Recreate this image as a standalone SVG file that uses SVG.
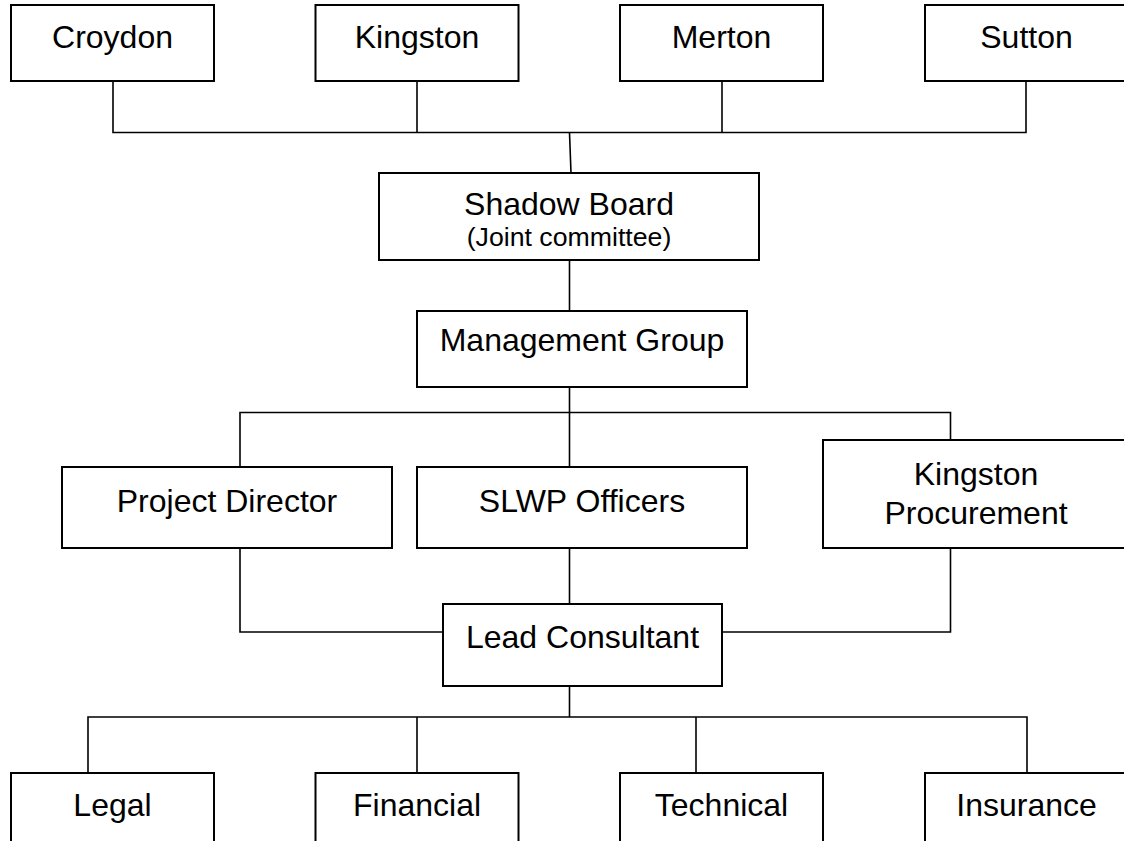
<svg xmlns="http://www.w3.org/2000/svg" width="1124" height="841" viewBox="0 0 1124 841">
<style>
.box{fill:#fff;stroke:#000;stroke-width:2}
.ln{fill:none;stroke:#000;stroke-width:1.6}
.t{font-family:"Liberation Sans",Arial,sans-serif;font-size:32px;text-anchor:middle;fill:#000}
.s{font-family:"Liberation Sans",Arial,sans-serif;font-size:26.7px;text-anchor:middle;fill:#000}
</style>
<rect width="1124" height="841" fill="#fff"/>
<g id="connectors">
<polyline class="ln" points="113,81 113,132.5 1026,132.5 1026,81"/>
<line class="ln" x1="417" y1="81" x2="417" y2="132.5"/>
<line class="ln" x1="722" y1="81" x2="722" y2="132.5"/>
<line class="ln" x1="569.5" y1="132.5" x2="571" y2="173"/>
<line class="ln" x1="569.5" y1="260" x2="569.5" y2="311"/>
<line class="ln" x1="569.5" y1="387" x2="569.5" y2="467"/>
<polyline class="ln" points="240,467 240,412.5 950.5,412.5 950.5,440"/>
<line class="ln" x1="569.5" y1="548" x2="569.5" y2="604"/>
<polyline class="ln" points="240,548 240,632 443,632"/>
<polyline class="ln" points="722,632 950.5,632 950.5,548"/>
<line class="ln" x1="569.5" y1="686" x2="569.5" y2="717"/>
<polyline class="ln" points="88,773 88,717 1027,717 1027,773"/>
<line class="ln" x1="417" y1="717" x2="417" y2="773"/>
<line class="ln" x1="696" y1="717" x2="696" y2="773"/>
</g>
<g id="croydon"><rect class="box" x="11" y="5" width="203" height="76"/><text class="t" x="112.5" y="48">Croydon</text></g>
<g id="kingston"><rect class="box" x="315.5" y="5" width="203" height="76"/><text class="t" x="417" y="48">Kingston</text></g>
<g id="merton"><rect class="box" x="620" y="5" width="203" height="76"/><text class="t" x="721.5" y="48">Merton</text></g>
<g id="sutton"><rect class="box" x="925" y="5" width="203" height="76"/><text class="t" x="1026.5" y="48">Sutton</text></g>
<g id="shadow-board"><rect class="box" x="379" y="173" width="380" height="87"/><text class="t" x="569" y="214.5">Shadow Board</text><text class="s" x="569" y="246">(Joint committee)</text></g>
<g id="management-group"><rect class="box" x="417" y="311" width="330" height="76"/><text class="t" x="582" y="350.5">Management Group</text></g>
<g id="project-director"><rect class="box" x="62" y="467" width="330" height="81"/><text class="t" x="227" y="512">Project Director</text></g>
<g id="slwp-officers"><rect class="box" x="417" y="467" width="330" height="81"/><text class="t" x="582" y="512">SLWP Officers</text></g>
<g id="kingston-procurement"><rect class="box" x="823" y="440" width="305" height="108"/><text class="t" x="976" y="484.5">Kingston</text><text class="t" x="976" y="524">Procurement</text></g>
<g id="lead-consultant"><rect class="box" x="443" y="604" width="279" height="82"/><text class="t" x="582.5" y="647.5">Lead Consultant</text></g>
<g id="legal"><rect class="box" x="11" y="773" width="203" height="80"/><text class="t" x="112.5" y="816">Legal</text></g>
<g id="financial"><rect class="box" x="315.5" y="773" width="203" height="80"/><text class="t" x="417" y="816">Financial</text></g>
<g id="technical"><rect class="box" x="620" y="773" width="203" height="80"/><text class="t" x="721.5" y="816">Technical</text></g>
<g id="insurance"><rect class="box" x="925" y="773" width="203" height="80"/><text class="t" x="1026.5" y="816">Insurance</text></g>
</svg>
